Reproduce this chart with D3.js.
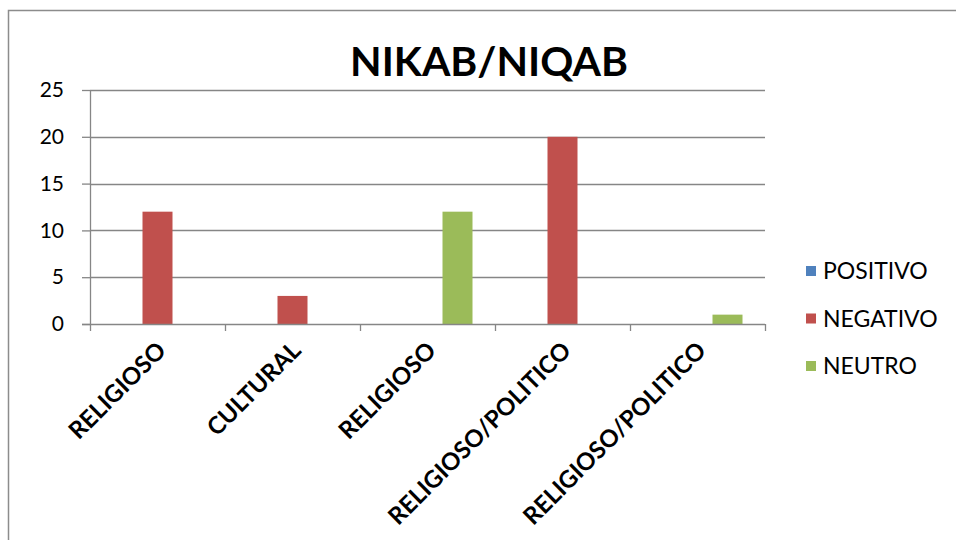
<!DOCTYPE html>
<html><head><meta charset="utf-8">
<script src="https://cdn.jsdelivr.net/npm/d3@7"></script>
<style>body{margin:0;background:#fff}svg{display:block}text{font-family:Lato,"Open Sans",sans-serif}</style>
</head><body><svg id="c" width="956" height="540"></svg>
<script>
const categories = ["RELIGIOSO","CULTURAL","RELIGIOSO","RELIGIOSO/POLITICO","RELIGIOSO/POLITICO"];
const seriesNames = ["POSITIVO","NEGATIVO","NEUTRO"];
const positivo = [0,0,0,0,0];
const negativo = [12,3,0,20,0];
const neutro = [0,0,12,0,1];
const colors = ["#4F81BD","#C0504D","#9BBB59"];
const yTicks = [0,5,10,15,20,25];
const title = "NIKAB/NIQAB";

const values = [positivo, negativo, neutro];
const svg = d3.select("#c");
svg.append("rect").attr("x",8.5).attr("y",10.5).attr("width",1000).attr("height",600)
  .attr("fill","none").attr("stroke","#8c8c8c").attr("stroke-width",1.5);

const L=90,R=765,T=90,B=324;
const idx = categories.map((d,i)=>i);
const x = d3.scaleBand().domain(idx).range([L,R]).paddingInner(0).paddingOuter(0);
const x1 = d3.scaleBand().domain(seriesNames).range([0,x.bandwidth()]).paddingInner(0).paddingOuter(0.75);
const y = d3.scaleLinear().domain([0,25]).range([B,T]);

// gridlines
svg.append("g").selectAll("line").data(yTicks.filter(d=>d>0)).join("line")
  .attr("x1",L).attr("x2",R).attr("y1",d=>Math.round(y(d))+0.5).attr("y2",d=>Math.round(y(d))+0.5)
  .attr("stroke","#868686").attr("stroke-width",1.3);

// bars
seriesNames.forEach((s,si)=>{
  svg.append("g").selectAll("rect").data(idx).join("rect")
    .attr("x",i=>x(i)+x1(s)).attr("width",x1.bandwidth())
    .attr("y",i=>y(values[si][i])).attr("height",i=>B-y(values[si][i]))
    .attr("fill",colors[si]);
});

// y axis
const ya = svg.append("g").attr("transform",`translate(${L},0)`)
  .call(d3.axisLeft(y).tickValues(yTicks).tickSize(8).tickPadding(18).tickFormat(d3.format("d")));
ya.select(".domain").attr("stroke","#868686").attr("stroke-width",1.3).attr("d",`M0.5,${T}V${B}`);
ya.selectAll(".tick line").attr("stroke","#868686").attr("stroke-width",1.3);
ya.selectAll("text").attr("font-size",21).attr("fill","#000").style("font-family","Lato,sans-serif");

// x axis
const xa = svg.append("g").attr("transform",`translate(0,${B})`);
xa.append("line").attr("x1",L-8).attr("x2",R).attr("y1",0.5).attr("y2",0.5).attr("stroke","#868686").attr("stroke-width",1.3);
const bounds = idx.map(i=>x(i)).concat([R]);
xa.selectAll("line.t").data(bounds).join("line").attr("class","t")
  .attr("x1",d=>d+0.5).attr("x2",d=>d+0.5).attr("y1",0).attr("y2",7)
  .attr("stroke","#868686").attr("stroke-width",1.3);
xa.selectAll("text").data(idx).join("text")
  .attr("transform",i=>`translate(${x(i)+x.bandwidth()/2+4},${22}) rotate(-45)`)
  .attr("text-anchor","end").attr("font-weight","bold").attr("font-size",24)
  .attr("dy","0.35em").text(i=>categories[i]);

// title
svg.append("text").attr("x",489).attr("y",76).attr("text-anchor","middle")
  .attr("font-weight","bold").attr("font-size",41).text(title);

// legend
const lg = svg.append("g");
seriesNames.forEach((s,i)=>{
  const yy = 271 + i*47.5;
  lg.append("rect").attr("x",806).attr("y",yy-5).attr("width",10).attr("height",10).attr("fill",colors[i]);
  lg.append("text").attr("x",823).attr("y",yy).attr("dy","0.35em").attr("font-size",23).text(s);
});
</script></body></html>
